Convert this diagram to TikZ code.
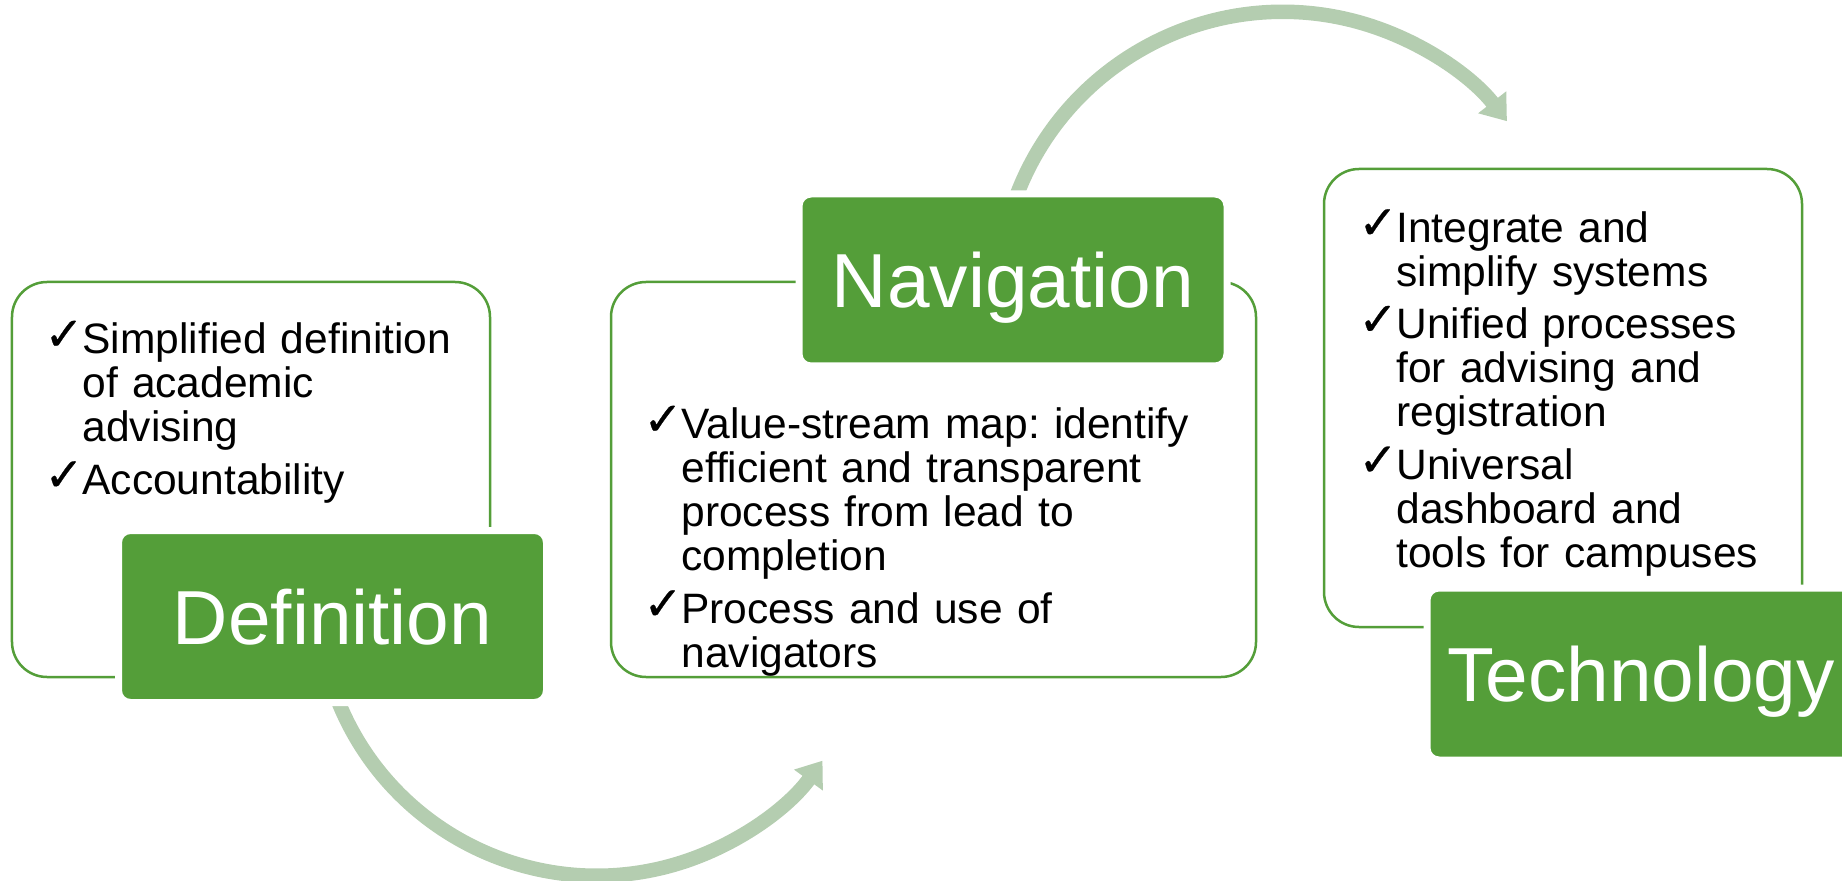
\documentclass[tikz,border=0pt]{standalone}
\usepackage{amsmath}
\usepackage{amssymb}
\usepackage{fontspec}
\setmainfont{Liberation Sans}
\newfontfamily\symfont[Scale=1.1,FakeBold=0.6]{DejaVu Sans}
\usetikzlibrary{shapes}
\usetikzlibrary{arrows.meta}
\usetikzlibrary{backgrounds}
\usetikzlibrary{positioning}
\definecolor{hdgreen}{HTML}{549E39}
\definecolor{arrowgreen}{HTML}{B4CDB0}
\newlength{\chkw}
\setlength{\chkw}{0.34cm}
\newcommand{\chk}{\makebox[\chkw][l]{\hspace*{-0.04cm}\smash{\raisebox{1pt}{\symfont ✓}}}}
\newcommand{\ind}{\hspace*{\chkw}}
\frenchspacing

\begin{document}
\begin{tikzpicture}[every node/.style={transform shape},
	  box/.style={rectangle,rounded corners=0.35cm,fill=white,draw=hdgreen,line width=0.025cm,minimum height=3.95cm},
	  head/.style={rectangle,rounded corners=0.12cm,fill=hdgreen,draw=white,line width=0.07cm,text=white,minimum width=4.28cm,minimum height=1.72cm,font=\fontsize{21.8}{24}\selectfont,text height=0.55cm,text depth=0pt},
	  list/.style={anchor=base west,inner sep=0pt,align=left,font=\fontsize{12.1}{12.5}\selectfont},
	  flow/.style={-{Triangle[length=0.24cm,width=0.34cm]},line width=0.145cm,draw=arrowgreen}]
	  \clip (0,0) rectangle (18.42,8.80);
	  \node[box,minimum width=4.78cm] (def) at (2.51,4.005) {};
	  \node[box,minimum width=6.45cm] (nav) at (9.335,4.005) {};
	  \node[box,minimum width=4.78cm,minimum height=4.58cm] (tech) at (15.63,4.82) {};
%
	  \node[list,text width=4.3cm] (defl) at ([xshift=0.37cm,yshift=-0.73cm]def.north west)
	    {\chk Simplified definition\\ \ind of academic\\ \ind advising\\[2.5pt] \chk Accountability};
	  \node[list,text width=5.8cm] (navl) at ([xshift=0.37cm,yshift=-1.58cm]nav.north west)
	    {\chk Value-stream map: identify\\ \ind efficient and transparent\\ \ind process from lead to\\ \ind completion\\[2.5pt] \chk Process and use of\\ \ind navigators};
	  \node[list,text width=4.3cm] (techl) at ([xshift=0.39cm,yshift=-0.745cm]tech.north west)
	    {\chk Integrate and\\ \ind simplify systems\\[2.5pt] \chk Unified processes\\ \ind for advising and\\ \ind registration\\[2.5pt] \chk Universal\\ \ind dashboard and\\ \ind tools for campuses};
%
	  \node[head] (defh) at (3.325,2.635) {Definition};
	  \node[head] (navh) at (10.13,6.0) {Navigation};
	  \node[head] (techh) at (16.41,2.06) {Technology};
%
	  \begin{scope}[on background layer]
	    \draw[flow] ([xshift=0.005cm,yshift=0.185cm]defh.south) arc[start angle=199,end angle=324,radius=2.79cm];
	    \draw[flow] ([xshift=-0.01cm,yshift=-0.18cm]navh.north) arc[start angle=162,end angle=38,radius=2.846cm];
	  \end{scope}
\end{tikzpicture}
\end{document}
